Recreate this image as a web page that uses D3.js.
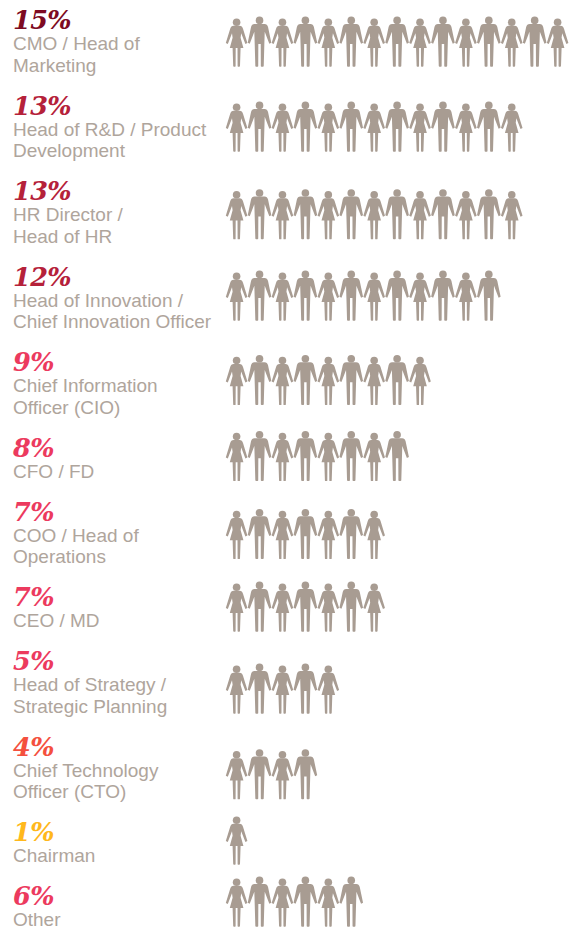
<!DOCTYPE html>
<html>
<head>
<meta charset="utf-8">
<script src="https://cdn.jsdelivr.net/npm/d3@7"></script>
<style>
    html, body { margin: 0; padding: 0; background: #fff; }
    .pct { font-family: "DejaVu Serif", serif; font-weight: bold; font-style: italic; font-size: 25.5px; letter-spacing: -0.6px; }
    .role { font-family: "Liberation Sans", sans-serif; font-size: 19px; fill: #afa59c; }
</style>
</head>
<body>
<svg id="chart" width="579" height="928"></svg>
<script>
var roles = [
    ["CMO / Head of", "Marketing"],
    ["Head of R&D / Product", "Development"],
    ["HR Director /", "Head of HR"],
    ["Head of Innovation /", "Chief Innovation Officer"],
    ["Chief Information", "Officer (CIO)"],
    ["CFO / FD"],
    ["COO / Head of", "Operations"],
    ["CEO / MD"],
    ["Head of Strategy /", "Strategic Planning"],
    ["Chief Technology", "Officer (CTO)"],
    ["Chairman"],
    ["Other"]
];
var percents = [15, 13, 13, 12, 9, 8, 7, 7, 5, 4, 1, 6];
var pctColors = ["#7d0a22", "#b5213a", "#b5213a", "#b5213a", "#ec3a5e", "#ec3a5e", "#ec3a5e", "#ec3a5e", "#ec3a5e", "#f4503e", "#ffb81c", "#ec3a5e"];

var svg = d3.select("#chart");
var margin = { left: 13 };
var iconColor = "#a89c92";

// each row is as tall as its label, one or two lines
var rowTwoLines = 85.5, rowOneLine = 64;
var rowY = [];
roles.reduce(function (y, r) {
    rowY.push(y);
    return y + (r.length > 1 ? rowTwoLines : rowOneLine);
}, 29);

// the figures do not follow the label rows exactly, feet line per row
var feetY = [66.7, 151.7, 239.3, 320.7, 405, 481, 559, 631.7, 713.7, 799.3, 864.7, 926.7];

// one figure per percent
var xScale = d3.scaleLinear().domain([0, 14]).range([236.6, 557.6]);

// figures drawn around (0,0) = centre of the feet line, going upwards
var femalePath = "M-3,-41 L3,-41 C4.8,-41 5.8,-40 6.4,-38 L10.8,-23.6 L8.8,-22.6 L4.6,-33.4 L4,-29 L6.8,-18.8 L4,-18.8 L3.4,-0.6 Q3.3,0 2.6,0 L1.6,0 Q1,0 1,-0.6 L0.9,-18.8 L-0.9,-18.8 L-1,-0.6 Q-1,0 -1.6,0 L-2.6,0 Q-3.3,0 -3.4,-0.6 L-4,-18.8 L-6.8,-18.8 L-4,-29 L-4.6,-33.4 L-8.8,-22.6 L-10.8,-23.6 L-6.4,-38 C-5.8,-40 -4.8,-41 -3,-41 Z";
var malePath = "M-5,-42.7 L5,-42.7 C7,-42.7 7.9,-41.7 8.5,-39.7 L11.8,-24 L9.8,-23 L5.2,-35 L4.8,-22 L4.2,-0.8 Q4.1,0 3.4,0 L2,0 Q1.3,0 1.3,-0.8 L1.2,-22.7 L-1.2,-22.7 L-1.3,-0.8 Q-1.3,0 -2,0 L-3.4,0 Q-4.1,0 -4.2,-0.8 L-4.8,-22 L-5.2,-35 L-9.8,-23 L-11.8,-24 L-8.5,-39.7 C-7.9,-41.7 -7,-42.7 -5,-42.7 Z";

var rows = svg.selectAll("g.row")
    .data(percents)
    .enter().append("g")
    .attr("class", "row");

rows.append("text")
    .attr("class", "pct")
    .attr("x", margin.left)
    .attr("y", function (d, i) { return rowY[i]; })
    .attr("fill", function (d, i) { return pctColors[i]; })
    .text(function (d) { return d + "%"; });

rows.each(function (d, i) {
    d3.select(this).selectAll("text.role")
        .data(roles[i])
        .enter().append("text")
        .attr("class", "role")
        .attr("x", margin.left)
        .attr("y", function (t, j) { return rowY[i] + 21 + j * 21.5; })
        .text(function (t) { return t; });

    var people = d3.select(this).selectAll("g.person")
        .data(d3.range(d))
        .enter().append("g")
        .attr("class", "person")
        .attr("fill", iconColor)
        .attr("transform", function (k) { return "translate(" + xScale(k) + "," + feetY[i] + ")"; });

    people.append("path")
        .attr("d", function (k) { return k % 2 ? malePath : femalePath; });

    people.append("circle")
        .attr("cy", function (k) { return k % 2 ? -46.3 : -44.5; })
        .attr("r", 3.8);
});
</script>
</body>
</html>
